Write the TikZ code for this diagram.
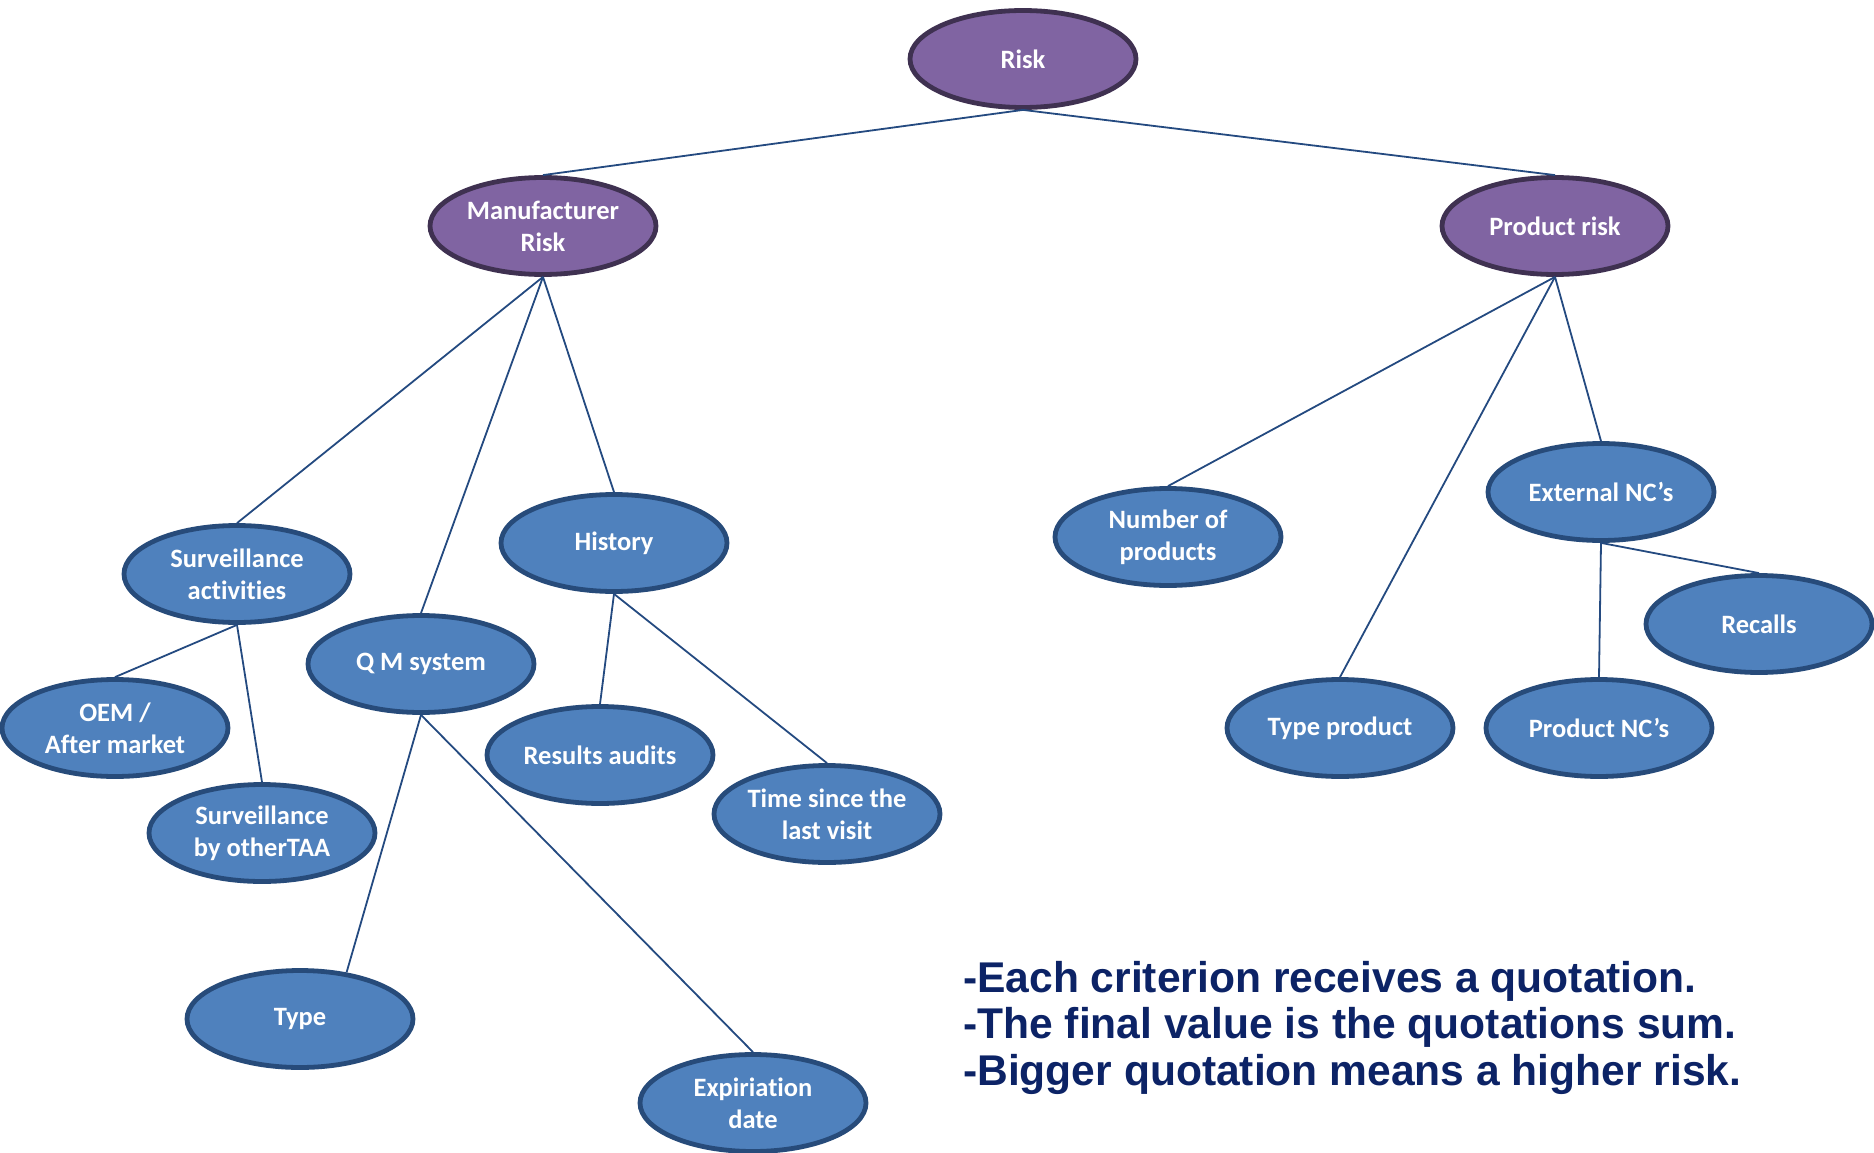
\documentclass[tikz,border=0pt]{standalone}
\usepackage{fontspec}
\setmainfont{Carlito}
\newfontfamily\nodefont[Ligatures=NoCommon]{Carlito}
\newfontfamily\notefont[FakeStretch=0.99]{Liberation Sans}
\usetikzlibrary{shapes.geometric}
\definecolor{purfill}{HTML}{8064A2}
\definecolor{purline}{HTML}{3F3151}
\definecolor{bluefill}{HTML}{4F81BD}
\definecolor{blueline}{HTML}{274B7A}
\definecolor{conn}{HTML}{244A80}
\definecolor{notecol}{HTML}{0C2366}
\tikzset{
  base/.style={ellipse, minimum width=226pt, minimum height=97pt, inner sep=0pt,
    line width=4.8pt, text=white, align=center,
    font=\nodefont\bfseries\fontsize{26.5}{32}\selectfont},
  pur/.style={base, fill=purfill, draw=purline},
  blu/.style={base, fill=bluefill, draw=blueline},
  link/.style={draw=conn, line width=1.8pt},
}
\begin{document}
\begin{tikzpicture}[x=1pt,y=-1pt]
\useasboundingbox (0,0) rectangle (1874,1153);
\node[pur] (risk) at (1023,59) {Risk};
\node[pur] (man) at (543,226) {Manufacturer\\Risk};
\node[pur] (prod) at (1555,226) {Product risk};
\node[blu] (surv) at (237,574) {Surveillance\\activities};
\node[blu] (hist) at (614,543) {History};
\node[blu] (qm) at (421,664) {Q M system};
\node[blu] (oem) at (115,728) {OEM /\\After market};
\node[blu] (sbo) at (262,833) {Surveillance\\by otherTAA};
\node[blu] (res) at (600,755) {Results audits};
\node[blu] (time) at (827,814) {Time since the\\last visit};
\node[blu] (type) at (300,1019) {Type};
\node[blu] (exp) at (753,1103) {Expiriation\\date};
\node[blu] (num) at (1168,537) {Number of\\products};
\node[blu] (ext) at (1601,492) {External NC’s};
\node[blu] (rec) at (1759,624) {Recalls};
\node[blu] (tp) at (1340,728) {Type product};
\node[blu] (pnc) at (1599,728) {Product NC’s};
\path[link] (risk.south) -- (man.north);
\path[link] (risk.south) -- (prod.north);
\path[link] (man.south) -- (surv.north);
\path[link] (man.south) -- (qm.north);
\path[link] (man.south) -- (hist.north);
\path[link] (surv.south) -- (oem.north);
\path[link] (surv.south) -- (sbo.north);
\path[link] (qm.south) -- (type.45);
\path[link] (qm.south) -- (exp.north);
\path[link] (hist.south) -- (res.north);
\path[link] (hist.south) -- (time.north);
\path[link] (prod.south) -- (num.north);
\path[link] (prod.south) -- (tp.north);
\path[link] (prod.south) -- (ext.north);
\path[link] (ext.south) -- (pnc.north);
\path[link] (ext.south) -- (rec.north);
\node[anchor=north west, inner sep=0pt, text=notecol, align=left,
  font=\notefont\bfseries\fontsize{43}{46.5}\selectfont] (note) at (963,961)
  {-Each criterion receives a quotation.\\-The final value is the quotations sum.\\-Bigger quotation means a higher risk.};
\end{tikzpicture}
\end{document}
